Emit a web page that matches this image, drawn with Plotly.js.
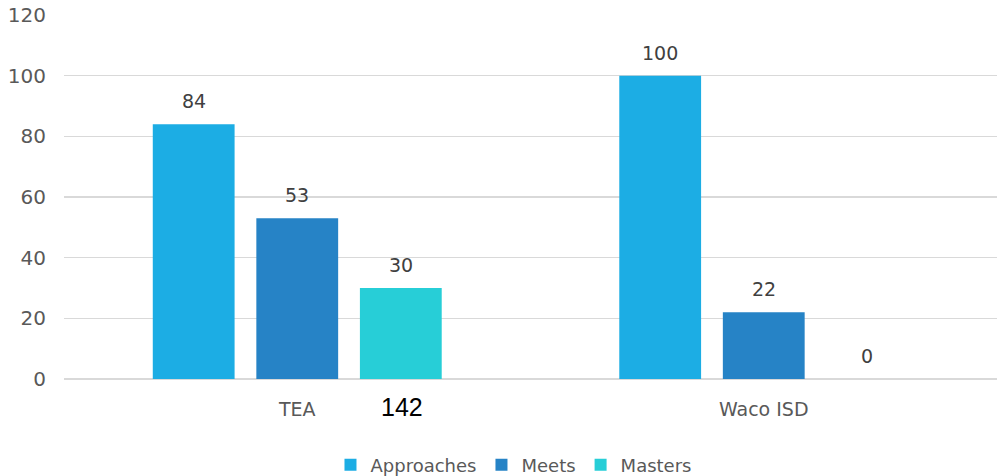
<!DOCTYPE html>
<html>
<head>
<meta charset="utf-8">
<script src="https://cdn.plot.ly/plotly-3.0.1.min.js"></script>
<style>html,body{margin:0;padding:0;background:#fff}#chart{width:999px;height:476px}</style>
</head>
<body>
<div id="chart"></div>
<script>
const categories = ["TEA", "Waco ISD"];
const seriesNames = ["Approaches", "Meets", "Masters"];
const approaches = [84, 100];
const meets = [53, 22];
const masters = [30, 0];
const seriesValues = [approaches, meets, masters];
const colors = ["#1CADE4", "#2683C6", "#27CED7"];
const yTicks = [0, 20, 40, 60, 80, 100, 120];
const noteText = "142";

const font = "DejaVu Sans, sans-serif";
const bargap = 0.334;
const bargroupgap = 0.21;

const traces = seriesNames.map((n, i) => ({
  type: "bar",
  name: n,
  x: categories,
  y: seriesValues[i],
  marker: {color: colors[i]},
  hoverinfo: "skip"
}));

const slot = (1 - bargap) / seriesNames.length;
const annotations = [];
seriesValues.forEach((vals, s) => {
  vals.forEach((v, c) => {
    annotations.push({
      x: c + (s - (seriesNames.length - 1) / 2) * slot,
      y: v, xref: "x", yref: "y",
      text: String(v), showarrow: false,
      yanchor: "bottom", yshift: 10,
      font: {family: font, size: 19, color: "#404040"}
    });
  });
});
annotations.push({
  x: 0.224, y: -0.077, xref: "x", yref: "paper",
  text: noteText, showarrow: false, yanchor: "middle",
  font: {family: "Liberation Sans, Arial, sans-serif", size: 25, color: "#000000"}
});

const layout = {
  width: 999, height: 476,
  margin: {l: 64, r: 2, t: 15, b: 97, autoexpand: false},
  paper_bgcolor: "#fff", plot_bgcolor: "#fff",
  barmode: "group", bargap: bargap, bargroupgap: bargroupgap,
  font: {family: font, size: 18, color: "#595959"},
  xaxis: {
    type: "category", showgrid: false, zeroline: false,
    showline: false, ticks: "", ticklabelstandoff: 17,
    tickfont: {family: font, size: 19, color: "#595959"}
  },
  yaxis: {
    range: [0, 120], tickvals: yTicks, showgrid: true, gridcolor: "#D9D9D9", gridwidth: 1.5,
    zeroline: true, zerolinecolor: "#D9D9D9", zerolinewidth: 2,
    showline: false, ticks: "", ticklabelstandoff: 17,
    tickfont: {family: font, size: 20, color: "#595959"}
  },
  showlegend: true,
  legend: {
    orientation: "h", x: 0.514, xanchor: "center", xref: "container",
    y: 0.023, yanchor: "middle", yref: "container",
    font: {family: font, size: 18, color: "#595959"}, itemwidth: 30, traceorder: "normal"
  },
  annotations: annotations
};

Plotly.newPlot("chart", traces, layout, {displayModeBar: false, staticPlot: true});
</script>
</body>
</html>
